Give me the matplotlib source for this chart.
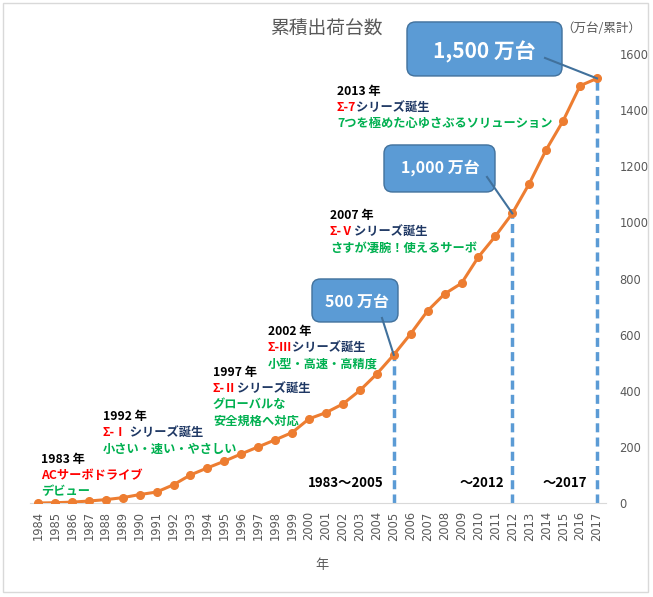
import matplotlib
matplotlib.use("Agg")
import matplotlib.pyplot as plt
from matplotlib.patches import FancyBboxPatch, Rectangle

plt.rcParams['font.family'] = ['Noto Sans CJK JP', 'DejaVu Sans']

years = list(range(1984, 2018))
units = [0, 1, 3, 7, 12, 19, 30, 39, 65, 100, 125, 149, 175, 200, 225, 251,
         300, 322, 353, 401, 460, 528, 603, 685, 745, 783, 877, 951, 1032,
         1138, 1259, 1362, 1487, 1513]

milestone_years = [2005, 2012, 2017]
milestone_labels = ['500 万台', '1,000 万台', '1,500 万台']
period_labels = ['1983～2005', '～2012', '～2017']

note_years = ['1983 年', '1992 年', '1997 年', '2002 年', '2007 年', '2013 年']
note_series = ['', 'Σ-Ⅰ', 'Σ-Ⅱ', 'Σ-Ⅲ', 'Σ-Ⅴ', 'Σ-7']
note_heads = ['ACサーボドライブ', ' シリーズ誕生', 'シリーズ誕生', 'シリーズ誕生',
              'シリーズ誕生', 'シリーズ誕生']
note_bodies = [['デビュー'], ['小さい・速い・やさしい'], ['グローバルな', '安全規格へ対応'],
               ['小型・高速・高精度'], ['さすが凄腕！使えるサーボ'],
               ['7つを極めた心ゆさぶるソリューション']]

ORANGE = '#ED7D31'
BLUE = '#5B9BD5'
DARKBLUE = '#41719C'
GRAY = '#595959'
RED = '#FF0000'
NAVY = '#1F3864'
GREEN = '#00B050'

fig = plt.figure(figsize=(6.53, 5.97), dpi=100)
fig.patches.append(Rectangle((3 / 653, 5 / 597), 645 / 653, 589 / 597,
                             transform=fig.transFigure, fill=False,
                             edgecolor='#D9D9D9', linewidth=1))
ax = fig.add_axes([29.5 / 653, 1 - 503 / 597, 576 / 653, 449 / 597])
ax.set_xlim(1983.5, 2017.5)
ax.set_ylim(0, 1600)

# milestone dashed drops
ms_vals = [units[years.index(y)] for y in milestone_years]
ax.vlines(milestone_years, 0, ms_vals, colors=BLUE, linewidth=2.5,
          linestyles=(0, (2.6, 1.5)), zorder=2)

ax.plot(years, units, color=ORANGE, linewidth=2.2, marker='o', markersize=5.5,
        zorder=3)

ax.set_xticks(years)
ax.set_xticklabels([str(y) for y in years], rotation=90)
ax.set_yticks(range(0, 1601, 200))
ax.yaxis.tick_right()
ax.tick_params(axis='both', length=0, colors=GRAY, labelsize=8.3)
ax.tick_params(axis='x', pad=6)
ax.tick_params(axis='y', pad=10)
for lab in ax.get_xticklabels() + ax.get_yticklabels():
    lab.set_family('DejaVu Sans')
for side in ['top', 'left', 'right']:
    ax.spines[side].set_visible(False)
ax.spines['bottom'].set_color('#D9D9D9')

fig.text(0.499, 1 - 29 / 597, '累積出荷台数', ha='center', va='center',
         fontsize=13.5, color=GRAY)
fig.text(561 / 653, 1 - 28 / 597, '（万台/累計）', ha='left', va='center',
         fontsize=9, color=GRAY)
fig.text(322 / 653, 1 - 565 / 597, '年', ha='center', va='center',
         fontsize=9.5, color=GRAY)

# px -> data helpers (x: 16.94 px per year, y: 0.2806 px per unit)
def dx(px):
    return 1984 + (px - 38) / 16.94


def dy(py):
    return (503 - py) / 0.2806


# series notes
note_px = [(41, 460), (103, 417), (213, 373), (268, 332), (330, 216), (337, 92)]
step = 11.5
fs = 8.8
for (px, py), yr, ser, head, body in zip(note_px, note_years, note_series,
                                          note_heads, note_bodies):
    x, y = dx(px), dy(py)
    ax.annotate(yr, (x, y), xytext=(0, 0), textcoords='offset points',
                va='center', ha='left', fontsize=fs, fontweight='bold',
                color='black')
    if ser:
        t = ax.annotate(ser, (x, y), xytext=(0, -step), textcoords='offset points',
                        va='center', ha='left', fontsize=fs, fontweight='bold',
                        color=RED)
        ax.annotate(head, xy=(1, 0), xycoords=t, va='bottom', ha='left',
                    fontsize=fs, fontweight='bold', color=NAVY)
    else:
        ax.annotate(head, (x, y), xytext=(0, -step), textcoords='offset points',
                    va='center', ha='left', fontsize=fs, fontweight='bold',
                    color=RED)
    for i, line in enumerate(body):
        ax.annotate(line, (x, y), xytext=(0, -step * (i + 2)),
                    textcoords='offset points', va='center', ha='left',
                    fontsize=fs, fontweight='bold', color=GREEN)

# period labels next to dashed lines
period_px = [384, 504, 587]
for lbl, px in zip(period_labels, period_px):
    ax.text(dx(px), dy(483), lbl, ha='right', va='center', fontsize=9.5,
            fontweight='bold', color='black')

# callout boxes
boxes_px = [(312, 279, 398, 322), (384, 145, 495, 192), (407, 22, 562, 76)]
line_px = [(382, 318), (487, 177), (545, 58)]
text_px = [(357, 302), (440, 168), (484, 52)]
box_fs = [11.5, 11.5, 15]
aspect = 16.94 / 0.2806
for (x0, y0, x1, y1), (lx, ly), (tx, ty), lbl, yr, v, f in zip(
        boxes_px, line_px, text_px, milestone_labels, milestone_years, ms_vals,
        box_fs):
    patch = FancyBboxPatch((dx(x0), dy(y1)), dx(x1) - dx(x0), dy(y0) - dy(y1),
                           boxstyle='round,pad=0,rounding_size=0.5',
                           mutation_aspect=aspect, facecolor=BLUE,
                           edgecolor=DARKBLUE, linewidth=1, clip_on=False,
                           zorder=4)
    ax.add_patch(patch)
    ax.text(dx(tx), dy(ty), lbl, ha='center', va='center', fontsize=f,
            fontweight='bold', color='white', zorder=5, clip_on=False)
    ax.plot([dx(lx), yr], [dy(ly), v], color=DARKBLUE, linewidth=1.5,
            zorder=5, clip_on=False)

fig.savefig('out.png', dpi=100)
